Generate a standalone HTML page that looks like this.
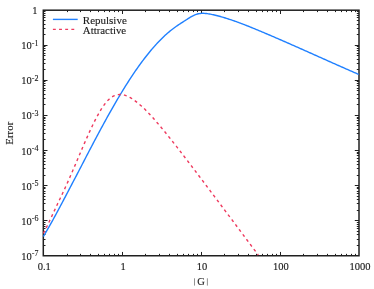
<!DOCTYPE html>
<html><head><meta charset="utf-8"><style>
html,body{margin:0;padding:0;background:#fff;}
body{width:374px;height:289px;overflow:hidden;}
svg{display:block;will-change:transform;}
text{font-family:"Liberation Serif",serif;font-size:10.5px;fill:#1a1a1a;stroke:#1a1a1a;stroke-width:0.12px;}
</style></head><body>
<svg width="374" height="289" viewBox="0 0 374 289">
<rect width="374" height="289" fill="#fff"/>
<g stroke="#202020" stroke-width="1" fill="none">
<line x1="67.50" y1="255.75" x2="67.50" y2="253.85"/><line x1="67.50" y1="10.20" x2="67.50" y2="12.10"/><line x1="80.50" y1="255.75" x2="80.50" y2="253.85"/><line x1="80.50" y1="10.20" x2="80.50" y2="12.10"/><line x1="90.50" y1="255.75" x2="90.50" y2="253.85"/><line x1="90.50" y1="10.20" x2="90.50" y2="12.10"/><line x1="98.50" y1="255.75" x2="98.50" y2="253.85"/><line x1="98.50" y1="10.20" x2="98.50" y2="12.10"/><line x1="104.50" y1="255.75" x2="104.50" y2="253.85"/><line x1="104.50" y1="10.20" x2="104.50" y2="12.10"/><line x1="109.50" y1="255.75" x2="109.50" y2="253.85"/><line x1="109.50" y1="10.20" x2="109.50" y2="12.10"/><line x1="114.50" y1="255.75" x2="114.50" y2="253.85"/><line x1="114.50" y1="10.20" x2="114.50" y2="12.10"/><line x1="118.50" y1="255.75" x2="118.50" y2="253.85"/><line x1="118.50" y1="10.20" x2="118.50" y2="12.10"/><line x1="122.50" y1="255.75" x2="122.50" y2="251.95"/><line x1="122.50" y1="10.20" x2="122.50" y2="14.00"/><line x1="145.50" y1="255.75" x2="145.50" y2="253.85"/><line x1="145.50" y1="10.20" x2="145.50" y2="12.10"/><line x1="159.50" y1="255.75" x2="159.50" y2="253.85"/><line x1="159.50" y1="10.20" x2="159.50" y2="12.10"/><line x1="169.50" y1="255.75" x2="169.50" y2="253.85"/><line x1="169.50" y1="10.20" x2="169.50" y2="12.10"/><line x1="177.50" y1="255.75" x2="177.50" y2="253.85"/><line x1="177.50" y1="10.20" x2="177.50" y2="12.10"/><line x1="183.50" y1="255.75" x2="183.50" y2="253.85"/><line x1="183.50" y1="10.20" x2="183.50" y2="12.10"/><line x1="188.50" y1="255.75" x2="188.50" y2="253.85"/><line x1="188.50" y1="10.20" x2="188.50" y2="12.10"/><line x1="193.50" y1="255.75" x2="193.50" y2="253.85"/><line x1="193.50" y1="10.20" x2="193.50" y2="12.10"/><line x1="197.50" y1="255.75" x2="197.50" y2="253.85"/><line x1="197.50" y1="10.20" x2="197.50" y2="12.10"/><line x1="201.50" y1="255.75" x2="201.50" y2="251.95"/><line x1="201.50" y1="10.20" x2="201.50" y2="14.00"/><line x1="224.50" y1="255.75" x2="224.50" y2="253.85"/><line x1="224.50" y1="10.20" x2="224.50" y2="12.10"/><line x1="238.50" y1="255.75" x2="238.50" y2="253.85"/><line x1="238.50" y1="10.20" x2="238.50" y2="12.10"/><line x1="248.50" y1="255.75" x2="248.50" y2="253.85"/><line x1="248.50" y1="10.20" x2="248.50" y2="12.10"/><line x1="256.50" y1="255.75" x2="256.50" y2="253.85"/><line x1="256.50" y1="10.20" x2="256.50" y2="12.10"/><line x1="262.50" y1="255.75" x2="262.50" y2="253.85"/><line x1="262.50" y1="10.20" x2="262.50" y2="12.10"/><line x1="267.50" y1="255.75" x2="267.50" y2="253.85"/><line x1="267.50" y1="10.20" x2="267.50" y2="12.10"/><line x1="272.50" y1="255.75" x2="272.50" y2="253.85"/><line x1="272.50" y1="10.20" x2="272.50" y2="12.10"/><line x1="276.50" y1="255.75" x2="276.50" y2="253.85"/><line x1="276.50" y1="10.20" x2="276.50" y2="12.10"/><line x1="280.50" y1="255.75" x2="280.50" y2="251.95"/><line x1="280.50" y1="10.20" x2="280.50" y2="14.00"/><line x1="303.50" y1="255.75" x2="303.50" y2="253.85"/><line x1="303.50" y1="10.20" x2="303.50" y2="12.10"/><line x1="317.50" y1="255.75" x2="317.50" y2="253.85"/><line x1="317.50" y1="10.20" x2="317.50" y2="12.10"/><line x1="327.50" y1="255.75" x2="327.50" y2="253.85"/><line x1="327.50" y1="10.20" x2="327.50" y2="12.10"/><line x1="335.50" y1="255.75" x2="335.50" y2="253.85"/><line x1="335.50" y1="10.20" x2="335.50" y2="12.10"/><line x1="341.50" y1="255.75" x2="341.50" y2="253.85"/><line x1="341.50" y1="10.20" x2="341.50" y2="12.10"/><line x1="346.50" y1="255.75" x2="346.50" y2="253.85"/><line x1="346.50" y1="10.20" x2="346.50" y2="12.10"/><line x1="351.50" y1="255.75" x2="351.50" y2="253.85"/><line x1="351.50" y1="10.20" x2="351.50" y2="12.10"/><line x1="355.50" y1="255.75" x2="355.50" y2="253.85"/><line x1="355.50" y1="10.20" x2="355.50" y2="12.10"/><line x1="43.30" y1="34.50" x2="45.50" y2="34.50"/><line x1="359.00" y1="34.50" x2="356.80" y2="34.50"/><line x1="43.30" y1="28.50" x2="45.50" y2="28.50"/><line x1="359.00" y1="28.50" x2="356.80" y2="28.50"/><line x1="43.30" y1="24.50" x2="45.50" y2="24.50"/><line x1="359.00" y1="24.50" x2="356.80" y2="24.50"/><line x1="43.30" y1="20.50" x2="45.50" y2="20.50"/><line x1="359.00" y1="20.50" x2="356.80" y2="20.50"/><line x1="43.30" y1="17.50" x2="45.50" y2="17.50"/><line x1="359.00" y1="17.50" x2="356.80" y2="17.50"/><line x1="43.30" y1="15.50" x2="45.50" y2="15.50"/><line x1="359.00" y1="15.50" x2="356.80" y2="15.50"/><line x1="43.30" y1="13.50" x2="45.50" y2="13.50"/><line x1="359.00" y1="13.50" x2="356.80" y2="13.50"/><line x1="43.30" y1="11.50" x2="45.50" y2="11.50"/><line x1="359.00" y1="11.50" x2="356.80" y2="11.50"/><line x1="43.30" y1="45.50" x2="47.50" y2="45.50"/><line x1="359.00" y1="45.50" x2="354.80" y2="45.50"/><line x1="43.30" y1="69.50" x2="45.50" y2="69.50"/><line x1="359.00" y1="69.50" x2="356.80" y2="69.50"/><line x1="43.30" y1="63.50" x2="45.50" y2="63.50"/><line x1="359.00" y1="63.50" x2="356.80" y2="63.50"/><line x1="43.30" y1="59.50" x2="45.50" y2="59.50"/><line x1="359.00" y1="59.50" x2="356.80" y2="59.50"/><line x1="43.30" y1="55.50" x2="45.50" y2="55.50"/><line x1="359.00" y1="55.50" x2="356.80" y2="55.50"/><line x1="43.30" y1="53.50" x2="45.50" y2="53.50"/><line x1="359.00" y1="53.50" x2="356.80" y2="53.50"/><line x1="43.30" y1="50.50" x2="45.50" y2="50.50"/><line x1="359.00" y1="50.50" x2="356.80" y2="50.50"/><line x1="43.30" y1="48.50" x2="45.50" y2="48.50"/><line x1="359.00" y1="48.50" x2="356.80" y2="48.50"/><line x1="43.30" y1="46.50" x2="45.50" y2="46.50"/><line x1="359.00" y1="46.50" x2="356.80" y2="46.50"/><line x1="43.30" y1="80.50" x2="47.50" y2="80.50"/><line x1="359.00" y1="80.50" x2="354.80" y2="80.50"/><line x1="43.30" y1="104.50" x2="45.50" y2="104.50"/><line x1="359.00" y1="104.50" x2="356.80" y2="104.50"/><line x1="43.30" y1="98.50" x2="45.50" y2="98.50"/><line x1="359.00" y1="98.50" x2="356.80" y2="98.50"/><line x1="43.30" y1="94.50" x2="45.50" y2="94.50"/><line x1="359.00" y1="94.50" x2="356.80" y2="94.50"/><line x1="43.30" y1="90.50" x2="45.50" y2="90.50"/><line x1="359.00" y1="90.50" x2="356.80" y2="90.50"/><line x1="43.30" y1="88.50" x2="45.50" y2="88.50"/><line x1="359.00" y1="88.50" x2="356.80" y2="88.50"/><line x1="43.30" y1="85.50" x2="45.50" y2="85.50"/><line x1="359.00" y1="85.50" x2="356.80" y2="85.50"/><line x1="43.30" y1="83.50" x2="45.50" y2="83.50"/><line x1="359.00" y1="83.50" x2="356.80" y2="83.50"/><line x1="43.30" y1="81.50" x2="45.50" y2="81.50"/><line x1="359.00" y1="81.50" x2="356.80" y2="81.50"/><line x1="43.30" y1="115.50" x2="47.50" y2="115.50"/><line x1="359.00" y1="115.50" x2="354.80" y2="115.50"/><line x1="43.30" y1="139.50" x2="45.50" y2="139.50"/><line x1="359.00" y1="139.50" x2="356.80" y2="139.50"/><line x1="43.30" y1="133.50" x2="45.50" y2="133.50"/><line x1="359.00" y1="133.50" x2="356.80" y2="133.50"/><line x1="43.30" y1="129.50" x2="45.50" y2="129.50"/><line x1="359.00" y1="129.50" x2="356.80" y2="129.50"/><line x1="43.30" y1="125.50" x2="45.50" y2="125.50"/><line x1="359.00" y1="125.50" x2="356.80" y2="125.50"/><line x1="43.30" y1="123.50" x2="45.50" y2="123.50"/><line x1="359.00" y1="123.50" x2="356.80" y2="123.50"/><line x1="43.30" y1="120.50" x2="45.50" y2="120.50"/><line x1="359.00" y1="120.50" x2="356.80" y2="120.50"/><line x1="43.30" y1="118.50" x2="45.50" y2="118.50"/><line x1="359.00" y1="118.50" x2="356.80" y2="118.50"/><line x1="43.30" y1="117.50" x2="45.50" y2="117.50"/><line x1="359.00" y1="117.50" x2="356.80" y2="117.50"/><line x1="43.30" y1="150.50" x2="47.50" y2="150.50"/><line x1="359.00" y1="150.50" x2="354.80" y2="150.50"/><line x1="43.30" y1="175.50" x2="45.50" y2="175.50"/><line x1="359.00" y1="175.50" x2="356.80" y2="175.50"/><line x1="43.30" y1="168.50" x2="45.50" y2="168.50"/><line x1="359.00" y1="168.50" x2="356.80" y2="168.50"/><line x1="43.30" y1="164.50" x2="45.50" y2="164.50"/><line x1="359.00" y1="164.50" x2="356.80" y2="164.50"/><line x1="43.30" y1="161.50" x2="45.50" y2="161.50"/><line x1="359.00" y1="161.50" x2="356.80" y2="161.50"/><line x1="43.30" y1="158.50" x2="45.50" y2="158.50"/><line x1="359.00" y1="158.50" x2="356.80" y2="158.50"/><line x1="43.30" y1="155.50" x2="45.50" y2="155.50"/><line x1="359.00" y1="155.50" x2="356.80" y2="155.50"/><line x1="43.30" y1="153.50" x2="45.50" y2="153.50"/><line x1="359.00" y1="153.50" x2="356.80" y2="153.50"/><line x1="43.30" y1="152.50" x2="45.50" y2="152.50"/><line x1="359.00" y1="152.50" x2="356.80" y2="152.50"/><line x1="43.30" y1="185.50" x2="47.50" y2="185.50"/><line x1="359.00" y1="185.50" x2="354.80" y2="185.50"/><line x1="43.30" y1="210.50" x2="45.50" y2="210.50"/><line x1="359.00" y1="210.50" x2="356.80" y2="210.50"/><line x1="43.30" y1="203.50" x2="45.50" y2="203.50"/><line x1="359.00" y1="203.50" x2="356.80" y2="203.50"/><line x1="43.30" y1="199.50" x2="45.50" y2="199.50"/><line x1="359.00" y1="199.50" x2="356.80" y2="199.50"/><line x1="43.30" y1="196.50" x2="45.50" y2="196.50"/><line x1="359.00" y1="196.50" x2="356.80" y2="196.50"/><line x1="43.30" y1="193.50" x2="45.50" y2="193.50"/><line x1="359.00" y1="193.50" x2="356.80" y2="193.50"/><line x1="43.30" y1="191.50" x2="45.50" y2="191.50"/><line x1="359.00" y1="191.50" x2="356.80" y2="191.50"/><line x1="43.30" y1="188.50" x2="45.50" y2="188.50"/><line x1="359.00" y1="188.50" x2="356.80" y2="188.50"/><line x1="43.30" y1="187.50" x2="45.50" y2="187.50"/><line x1="359.00" y1="187.50" x2="356.80" y2="187.50"/><line x1="43.30" y1="220.50" x2="47.50" y2="220.50"/><line x1="359.00" y1="220.50" x2="354.80" y2="220.50"/><line x1="43.30" y1="245.50" x2="45.50" y2="245.50"/><line x1="359.00" y1="245.50" x2="356.80" y2="245.50"/><line x1="43.30" y1="239.50" x2="45.50" y2="239.50"/><line x1="359.00" y1="239.50" x2="356.80" y2="239.50"/><line x1="43.30" y1="234.50" x2="45.50" y2="234.50"/><line x1="359.00" y1="234.50" x2="356.80" y2="234.50"/><line x1="43.30" y1="231.50" x2="45.50" y2="231.50"/><line x1="359.00" y1="231.50" x2="356.80" y2="231.50"/><line x1="43.30" y1="228.50" x2="45.50" y2="228.50"/><line x1="359.00" y1="228.50" x2="356.80" y2="228.50"/><line x1="43.30" y1="226.50" x2="45.50" y2="226.50"/><line x1="359.00" y1="226.50" x2="356.80" y2="226.50"/><line x1="43.30" y1="224.50" x2="45.50" y2="224.50"/><line x1="359.00" y1="224.50" x2="356.80" y2="224.50"/><line x1="43.30" y1="222.50" x2="45.50" y2="222.50"/><line x1="359.00" y1="222.50" x2="356.80" y2="222.50"/>
</g>
<rect x="43.3" y="10.2" width="315.70" height="245.55" fill="none" stroke="#202020" stroke-width="1.5"/>
<path d="M43.40,236.50 L44.40,234.82 L45.40,233.12 L46.40,231.41 L47.40,229.68 L48.40,227.93 L49.40,226.17 L50.40,224.40 L51.40,222.61 L52.40,220.81 L53.40,218.99 L54.40,217.17 L55.40,215.33 L56.40,213.49 L57.40,211.63 L58.40,209.77 L59.40,207.90 L60.40,206.02 L61.40,204.14 L62.40,202.25 L63.40,200.35 L64.40,198.45 L65.40,196.55 L66.40,194.64 L67.40,192.74 L68.40,190.83 L69.40,188.92 L70.40,187.01 L71.40,185.10 L72.40,183.19 L73.40,181.28 L74.40,179.38 L75.40,177.47 L76.40,175.56 L77.40,173.64 L78.40,171.72 L79.40,169.80 L80.40,167.88 L81.40,165.95 L82.40,164.02 L83.40,162.09 L84.40,160.16 L85.40,158.23 L86.40,156.30 L87.40,154.37 L88.40,152.45 L89.40,150.53 L90.40,148.61 L91.40,146.70 L92.40,144.80 L93.40,142.89 L94.40,141.00 L95.40,139.11 L96.40,137.22 L97.40,135.34 L98.40,133.47 L99.40,131.60 L100.40,129.75 L101.40,127.89 L102.40,126.05 L103.40,124.21 L104.40,122.38 L105.40,120.56 L106.40,118.75 L107.40,116.95 L108.40,115.15 L109.40,113.36 L110.40,111.59 L111.40,109.82 L112.40,108.06 L113.40,106.32 L114.40,104.58 L115.40,102.85 L116.40,101.14 L117.40,99.44 L118.40,97.74 L119.40,96.06 L120.40,94.39 L121.40,92.74 L122.40,91.09 L123.40,89.46 L124.40,87.84 L125.40,86.23 L126.40,84.64 L127.40,83.06 L128.40,81.50 L129.40,79.95 L130.40,78.41 L131.40,76.89 L132.40,75.38 L133.40,73.89 L134.40,72.42 L135.40,70.95 L136.40,69.51 L137.40,68.08 L138.40,66.67 L139.40,65.27 L140.40,63.89 L141.40,62.52 L142.40,61.17 L143.40,59.84 L144.40,58.53 L145.40,57.23 L146.40,55.95 L147.40,54.69 L148.40,53.44 L149.40,52.21 L150.40,51.00 L151.40,49.81 L152.40,48.64 L153.40,47.48 L154.40,46.35 L155.40,45.23 L156.40,44.13 L157.40,43.05 L158.40,41.98 L159.40,40.94 L160.40,39.92 L161.40,38.91 L162.40,37.93 L163.40,36.97 L164.40,36.02 L165.40,35.10 L166.40,34.20 L167.40,33.31 L168.40,32.45 L169.40,31.61 L170.40,30.79 L171.40,29.99 L172.40,29.21 L173.40,28.46 L174.40,27.72 L175.40,27.00 L176.40,26.29 L177.40,25.60 L178.40,24.92 L179.40,24.25 L180.40,23.59 L181.40,22.94 L182.40,22.29 L183.40,21.65 L184.40,21.01 L185.40,20.37 L186.40,19.72 L187.40,19.08 L188.40,18.44 L189.40,17.82 L190.40,17.22 L191.40,16.63 L192.40,16.08 L193.40,15.57 L194.40,15.10 L195.40,14.68 L196.40,14.32 L197.40,14.01 L198.40,13.76 L199.40,13.57 L200.40,13.43 L201.40,13.34 L202.40,13.30 L203.40,13.31 L204.40,13.36 L205.40,13.44 L206.40,13.55 L207.40,13.68 L208.40,13.83 L209.40,14.00 L210.40,14.18 L211.40,14.37 L212.40,14.57 L213.40,14.79 L214.40,15.01 L215.40,15.25 L216.40,15.49 L217.40,15.75 L218.40,16.01 L219.40,16.28 L220.40,16.55 L221.40,16.84 L222.40,17.13 L223.40,17.42 L224.40,17.72 L225.40,18.02 L226.40,18.33 L227.40,18.65 L228.40,18.97 L229.40,19.30 L230.40,19.63 L231.40,19.96 L232.40,20.30 L233.40,20.65 L234.40,21.00 L235.40,21.35 L236.40,21.71 L237.40,22.07 L238.40,22.43 L239.40,22.80 L240.40,23.17 L241.40,23.55 L242.40,23.93 L243.40,24.31 L244.40,24.70 L245.40,25.09 L246.40,25.48 L247.40,25.87 L248.40,26.27 L249.40,26.67 L250.40,27.07 L251.40,27.48 L252.40,27.88 L253.40,28.29 L254.40,28.70 L255.40,29.11 L256.40,29.53 L257.40,29.94 L258.40,30.36 L259.40,30.78 L260.40,31.20 L261.40,31.62 L262.40,32.04 L263.40,32.46 L264.40,32.89 L265.40,33.31 L266.40,33.73 L267.40,34.16 L268.40,34.59 L269.40,35.01 L270.40,35.44 L271.40,35.87 L272.40,36.30 L273.40,36.73 L274.40,37.16 L275.40,37.59 L276.40,38.02 L277.40,38.46 L278.40,38.89 L279.40,39.32 L280.40,39.76 L281.40,40.19 L282.40,40.63 L283.40,41.07 L284.40,41.50 L285.40,41.94 L286.40,42.38 L287.40,42.82 L288.40,43.26 L289.40,43.70 L290.40,44.14 L291.40,44.58 L292.40,45.02 L293.40,45.46 L294.40,45.90 L295.40,46.34 L296.40,46.78 L297.40,47.23 L298.40,47.67 L299.40,48.11 L300.40,48.56 L301.40,49.00 L302.40,49.44 L303.40,49.89 L304.40,50.33 L305.40,50.78 L306.40,51.22 L307.40,51.67 L308.40,52.11 L309.40,52.56 L310.40,53.01 L311.40,53.45 L312.40,53.90 L313.40,54.34 L314.40,54.79 L315.40,55.24 L316.40,55.68 L317.40,56.13 L318.40,56.58 L319.40,57.02 L320.40,57.47 L321.40,57.92 L322.40,58.36 L323.40,58.81 L324.40,59.26 L325.40,59.70 L326.40,60.15 L327.40,60.59 L328.40,61.04 L329.40,61.49 L330.40,61.93 L331.40,62.38 L332.40,62.82 L333.40,63.27 L334.40,63.71 L335.40,64.16 L336.40,64.60 L337.40,65.05 L338.40,65.49 L339.40,65.93 L340.40,66.38 L341.40,66.82 L342.40,67.26 L343.40,67.71 L344.40,68.15 L345.40,68.59 L346.40,69.03 L347.40,69.47 L348.40,69.91 L349.40,70.35 L350.40,70.79 L351.40,71.23 L352.40,71.67 L353.40,72.11 L354.40,72.55 L355.40,72.98 L356.40,73.42 L357.40,73.86 L358.40,74.29 L358.65,74.40" fill="none" stroke="#2080ff" stroke-width="1.4" stroke-linejoin="round"/>
<path d="M43.40,233.41 L44.40,231.47 L45.40,229.49 L46.40,227.48 L47.40,225.44 L48.40,223.37 L49.40,221.28 L50.40,219.17 L51.40,217.05 L52.40,214.92 L53.40,212.78 L54.40,210.64 L55.40,208.50 L56.40,206.37 L57.40,204.25 L58.40,202.14 L59.40,200.04 L60.40,197.94 L61.40,195.84 L62.40,193.73 L63.40,191.60 L64.40,189.46 L65.40,187.28 L66.40,185.09 L67.40,182.86 L68.40,180.62 L69.40,178.35 L70.40,176.06 L71.40,173.76 L72.40,171.44 L73.40,169.11 L74.40,166.77 L75.40,164.43 L76.40,162.08 L77.40,159.73 L78.40,157.38 L79.40,155.03 L80.40,152.68 L81.40,150.34 L82.40,148.01 L83.40,145.70 L84.40,143.39 L85.40,141.10 L86.40,138.83 L87.40,136.59 L88.40,134.36 L89.40,132.16 L90.40,129.99 L91.40,127.84 L92.40,125.74 L93.40,123.67 L94.40,121.64 L95.40,119.66 L96.40,117.73 L97.40,115.85 L98.40,114.04 L99.40,112.28 L100.40,110.59 L101.40,108.97 L102.40,107.42 L103.40,105.94 L104.40,104.55 L105.40,103.25 L106.40,102.03 L107.40,100.90 L108.40,99.87 L109.40,98.94 L110.40,98.11 L111.40,97.37 L112.40,96.72 L113.40,96.16 L114.40,95.68 L115.40,95.30 L116.40,94.99 L117.40,94.76 L118.40,94.60 L119.40,94.52 L120.40,94.51 L121.40,94.57 L122.40,94.69 L123.40,94.88 L124.40,95.12 L125.40,95.43 L126.40,95.79 L127.40,96.20 L128.40,96.66 L129.40,97.17 L130.40,97.72 L131.40,98.32 L132.40,98.95 L133.40,99.62 L134.40,100.33 L135.40,101.07 L136.40,101.83 L137.40,102.62 L138.40,103.44 L139.40,104.29 L140.40,105.16 L141.40,106.05 L142.40,106.97 L143.40,107.91 L144.40,108.87 L145.40,109.85 L146.40,110.85 L147.40,111.87 L148.40,112.90 L149.40,113.96 L150.40,115.03 L151.40,116.12 L152.40,117.22 L153.40,118.34 L154.40,119.47 L155.40,120.61 L156.40,121.76 L157.40,122.93 L158.40,124.10 L159.40,125.29 L160.40,126.48 L161.40,127.68 L162.40,128.89 L163.40,130.10 L164.40,131.32 L165.40,132.55 L166.40,133.78 L167.40,135.02 L168.40,136.27 L169.40,137.52 L170.40,138.77 L171.40,140.03 L172.40,141.29 L173.40,142.56 L174.40,143.83 L175.40,145.11 L176.40,146.39 L177.40,147.68 L178.40,148.96 L179.40,150.25 L180.40,151.55 L181.40,152.85 L182.40,154.14 L183.40,155.45 L184.40,156.75 L185.40,158.05 L186.40,159.36 L187.40,160.67 L188.40,161.98 L189.40,163.29 L190.40,164.60 L191.40,165.92 L192.40,167.23 L193.40,168.55 L194.40,169.86 L195.40,171.18 L196.40,172.50 L197.40,173.82 L198.40,175.14 L199.40,176.46 L200.40,177.78 L201.40,179.11 L202.40,180.43 L203.40,181.76 L204.40,183.08 L205.40,184.41 L206.40,185.74 L207.40,187.06 L208.40,188.39 L209.40,189.72 L210.40,191.05 L211.40,192.38 L212.40,193.71 L213.40,195.04 L214.40,196.38 L215.40,197.71 L216.40,199.04 L217.40,200.38 L218.40,201.71 L219.40,203.04 L220.40,204.38 L221.40,205.71 L222.40,207.05 L223.40,208.39 L224.40,209.72 L225.40,211.06 L226.40,212.40 L227.40,213.73 L228.40,215.07 L229.40,216.41 L230.40,217.75 L231.40,219.09 L232.40,220.42 L233.40,221.76 L234.40,223.10 L235.40,224.44 L236.40,225.78 L237.40,227.12 L238.40,228.45 L239.40,229.79 L240.40,231.13 L241.40,232.47 L242.40,233.81 L243.40,235.15 L244.40,236.48 L245.40,237.82 L246.40,239.16 L247.40,240.50 L248.40,241.83 L249.40,243.17 L250.40,244.51 L251.40,245.84 L252.40,247.18 L253.40,248.52 L254.40,249.85 L255.40,251.19 L256.40,252.52 L257.40,253.85 L258.25,254.99" fill="none" stroke="#ee3a5e" stroke-width="1.4" stroke-dasharray="2.9 3.25" stroke-dashoffset="0.11" stroke-linejoin="round"/>
<line x1="52.9" y1="19.4" x2="77.7" y2="19.4" stroke="#2080ff" stroke-width="1.4"/>
<line x1="52.9" y1="29.4" x2="77.3" y2="29.4" stroke="#ee3a5e" stroke-width="1.4" stroke-dasharray="2.9 3.25"/>
<text x="82.8" y="24.2" textLength="44" lengthAdjust="spacingAndGlyphs">Repulsive</text>
<text x="82.8" y="34.2" textLength="43.4" lengthAdjust="spacingAndGlyphs">Attractive</text>
<text x="37.6" y="14.00" text-anchor="end">1</text><text x="38.4" y="49.28" text-anchor="end">10<tspan dy="-3.4" font-size="8">-1</tspan></text><text x="38.4" y="84.36" text-anchor="end">10<tspan dy="-3.4" font-size="8">-2</tspan></text><text x="38.4" y="119.44" text-anchor="end">10<tspan dy="-3.4" font-size="8">-3</tspan></text><text x="38.4" y="154.51" text-anchor="end">10<tspan dy="-3.4" font-size="8">-4</tspan></text><text x="38.4" y="189.59" text-anchor="end">10<tspan dy="-3.4" font-size="8">-5</tspan></text><text x="38.4" y="224.67" text-anchor="end">10<tspan dy="-3.4" font-size="8">-6</tspan></text><text x="38.4" y="259.75" text-anchor="end">10<tspan dy="-3.4" font-size="8">-7</tspan></text>
<text x="44.20" y="270.3" text-anchor="middle">0.1</text><text x="123.12" y="270.3" text-anchor="middle">1</text><text x="202.05" y="270.3" text-anchor="middle">10</text><text x="280.97" y="270.3" text-anchor="middle">100</text><text x="359.90" y="270.3" text-anchor="middle">1000</text>
<text x="201.1" y="285.2" text-anchor="middle">G</text>
<path d="M194.5,278.3 V285.6 M207.4,278.3 V285.6" stroke="#777" stroke-width="0.8" fill="none"/>
<text transform="translate(13.4,144.7) rotate(-90)" textLength="23" lengthAdjust="spacingAndGlyphs">Error</text>
</svg>
</body></html>
